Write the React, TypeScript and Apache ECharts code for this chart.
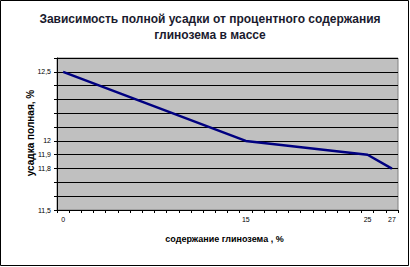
import React, { useEffect, useRef } from "react";
import * as echarts from "echarts";

const categories: string[] = Array.from({ length: 28 }, (_, i) => String(i));
const pointX: number[] = [0, 15, 25, 27];
const pointY: number[] = [12.5, 12.0, 11.9, 11.8];
const xLabels: string[] = ["0", "15", "25", "27"];
const yLabels: number[] = [12.5, 12, 11.9, 11.8, 11.5];

export default function App() {
  const ref = useRef<HTMLDivElement>(null);
  useEffect(() => {
    if (!ref.current) return;
    const chart = echarts.init(ref.current, null, { renderer: "svg" });
    const seriesData: (number | null)[] = categories.map((c) => {
      const idx = pointX.indexOf(Number(c));
      return idx >= 0 ? pointY[idx] : null;
    });
    chart.setOption({
      animation: false,
      backgroundColor: "#ffffff",
      title: {
        text: "Зависимость полной усадки от процентного содержания\nглинозема в массе",
        left: 205,
        textAlign: "center",
        top: 6,
        textStyle: {
          fontFamily: "Arial, Liberation Sans",
          fontSize: 12,
          fontWeight: "bold",
          color: "#1a1a2e",
          lineHeight: 16,
        },
      },
      graphic: [
        {
          type: "rect",
          shape: { x: 0.5, y: 0.5, width: 408, height: 265 },
          style: { fill: "none", stroke: "#000", lineWidth: 1 },
          silent: true,
        },
        {
          type: "text",
          x: 30,
          y: 133,
          rotation: Math.PI / 2,
          style: {
            text: "усадка полная, %",
            fontFamily: "Arial, Liberation Sans",
            fontSize: 10,
            fontWeight: "bold",
            fill: "#000",
            align: "center",
            verticalAlign: "middle",
          },
          silent: true,
        },
      ],
      grid: {
        left: 57,
        top: 58,
        width: 341,
        height: 152,
        show: true,
        backgroundColor: "#c0c0c0",
        borderColor: "#808080",
        borderWidth: 1,
      },
      xAxis: {
        type: "category",
        data: categories,
        boundaryGap: true,
        name: "содержание глинозема , %",
        nameLocation: "middle",
        nameGap: 24,
        nameTextStyle: {
          fontFamily: "Arial, Liberation Sans",
          fontSize: 9,
          fontWeight: "bold",
          color: "#000",
          padding: [0, 6, 0, 0],
        },
        axisLine: { show: true, lineStyle: { color: "#000", width: 1 } },
        axisTick: { show: true, interval: 0, length: 3, lineStyle: { color: "#000" } },
        axisLabel: {
          interval: (index: number, value: string) => xLabels.includes(value),
          fontFamily: "Arial Narrow, Liberation Sans Narrow, Arial",
          fontSize: 7,
          color: "#000",
          margin: 6,
        },
        splitLine: { show: false },
      },
      yAxis: {
        type: "value",
        min: 11.5,
        max: 12.6,
        interval: 0.1,
        axisLine: { show: true, lineStyle: { color: "#000", width: 1 } },
        axisTick: { show: true, length: 3, lineStyle: { color: "#000" } },
        axisLabel: {
          fontFamily: "Arial Narrow, Liberation Sans Narrow, Arial",
          fontSize: 7,
          color: "#000",
          margin: 6,
          formatter: (v: number) => {
            const r = Math.round(v * 10) / 10;
            return yLabels.some((l) => Math.abs(l - r) < 1e-6)
              ? String(r).replace(".", ",")
              : "";
          },
        },
        splitLine: { show: true, lineStyle: { color: "#000", width: 1 } },
      },
      series: [
        {
          type: "line",
          data: seriesData,
          connectNulls: true,
          showSymbol: false,
          symbol: "none",
          lineStyle: { color: "#000080", width: 2.5 },
        },
      ],
    });
    return () => chart.dispose();
  }, []);
  return (
    <div
      ref={ref}
      style={{ position: "fixed", left: 0, top: 0, width: 410, height: 267 }}
    />
  );
}
